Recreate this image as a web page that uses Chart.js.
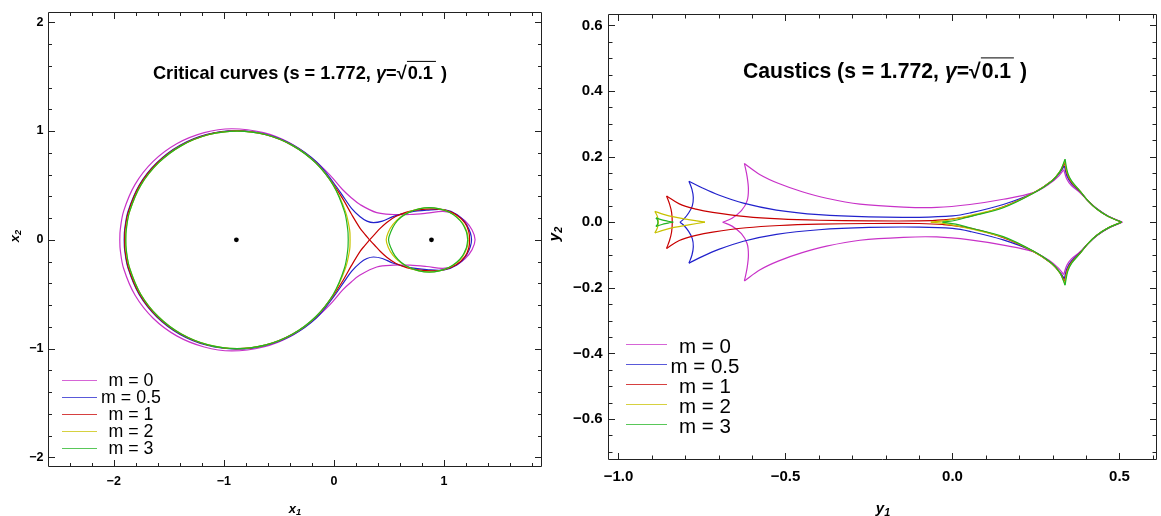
<!DOCTYPE html>
<html>
<head>
<meta charset="utf-8">
<script src="https://cdn.jsdelivr.net/npm/chart.js@4.4.1/dist/chart.umd.min.js"></script>
<style>
  html, body { margin: 0; padding: 0; background: #fff; }
  #wrap { position: relative; width: 1161px; height: 516px; overflow: hidden;
          font-family: "Liberation Sans", Arial, sans-serif; color: #000; background: #fff; }
  canvas { position: absolute; top: 0; }
  .t { position: absolute; white-space: nowrap; transform: translate(-50%, -50%); line-height: 1; }
  .title { font-weight: bold; }
  .ov { border-top: 1.6px solid #000; padding: 1px 3px 0 1px; }
  .axl { font-weight: bold; font-style: italic; }
  .axl sub { font-size: 72%; vertical-align: -0.3em; line-height: 0; }
  .rot { transform: translate(-50%, -50%) rotate(-90deg); }
  .lg { position: absolute; height: 0; border-top: 1.8px solid; opacity: 0.75; }
  .lt { position: absolute; white-space: nowrap; transform: translate(-50%, -50%); line-height: 1; }
</style>
</head>
<body>
<div id="wrap">
  <canvas id="crit" width="560" height="516" style="left:0"></canvas>
  <canvas id="caus" width="601" height="516" style="left:560px"></canvas>

  <div class="t title" style="left:300px; top:73px; font-size:18.2px">Critical curves (s = 1.772, <i>γ</i>=√<span class="ov">0.1</span> )</div>
  <div class="t title" style="left:885px; top:71px; font-size:21.2px">Caustics (s = 1.772, <i>γ</i>=√<span class="ov">0.1</span> )</div>

  <div class="t axl" style="left:295px; top:508px; font-size:13px">x<sub>1</sub></div>
  <div class="t axl rot" style="left:14px; top:236px; font-size:13px">x<sub>2</sub></div>
  <div class="t axl" style="left:883px; top:507px; font-size:15px">y<sub>1</sub></div>
  <div class="t axl rot" style="left:553px; top:234px; font-size:15px">y<sub>2</sub></div>

  <div id="legL"></div>
  <div id="legR"></div>
</div>

<script>
// ---------- colours / legend ----------
const mLabels = ["m = 0", "m = 0.5", "m = 1", "m = 2", "m = 3"];
const mColors = ["#c832c8", "#2222cc", "#c80000", "#c8c200", "#22b422"];

// ---------- axes (left: critical curves) ----------
const critXMajor = [-2, -1, 0, 1];
const critXLabels = ["\u22122", "\u22121", "0", "1"];
const critXTicks = [-2.4, -2.2, -2, -1.8, -1.6, -1.4, -1.2, -1, -0.8, -0.6, -0.4, -0.2, 0,
                    0.2, 0.4, 0.6, 0.8, 1, 1.2, 1.4, 1.6, 1.8];
const critYMajor = [-2, -1, 0, 1, 2];
const critYLabels = ["\u22122", "\u22121", "0", "1", "2"];
const critYTicks = [-2, -1.8, -1.6, -1.4, -1.2, -1, -0.8, -0.6, -0.4, -0.2, 0,
                    0.2, 0.4, 0.6, 0.8, 1, 1.2, 1.4, 1.6, 1.8, 2];

// ---------- axes (right: caustics) ----------
const causXMajor = [-1, -0.5, 0, 0.5];
const causXLabels = ["\u22121.0", "\u22120.5", "0.0", "0.5"];
const causXTicks = [-1, -0.9, -0.8, -0.7, -0.6, -0.5, -0.4, -0.3, -0.2, -0.1, 0,
                    0.1, 0.2, 0.3, 0.4, 0.5, 0.6];
const causYMajor = [-0.6, -0.4, -0.2, 0, 0.2, 0.4, 0.6];
const causYLabels = ["\u22120.6", "\u22120.4", "\u22120.2", "0.0", "0.2", "0.4", "0.6"];
const causYTicks = [-0.7, -0.65, -0.6, -0.55, -0.5, -0.45, -0.4, -0.35, -0.3, -0.25, -0.2,
                    -0.15, -0.1, -0.05, 0, 0.05, 0.1, 0.15, 0.2, 0.25, 0.3, 0.35, 0.4,
                    0.45, 0.5, 0.55, 0.6];

// ---------- lens positions ----------
const lensX = [-0.886, 0.886];
const lensY = [0, 0];

// ---------- critical curves ----------
const crit_m0 = [
  [-1.945, 0], [-1.941, 0.09], [-1.91, 0.264], [-1.806, 0.51], [-1.642, 0.721], [-1.428, 0.883],
  [-1.178, 0.985], [-0.928, 1.021], [-0.64, 0.985], [-0.4, 0.89], [-0.2, 0.75], [-0.04, 0.6],
  [0.08, 0.46], [0.16, 0.385], [0.237, 0.324], [0.389, 0.25], [0.54, 0.233], [0.691, 0.233],
  [0.843, 0.245], [0.99, 0.262], [1.1, 0.238], [1.19, 0.175], [1.255, 0.09], [1.282, 0],
  [1.255, -0.09], [1.19, -0.175], [1.1, -0.238], [0.99, -0.262], [0.843, -0.245], [0.691, -0.233],
  [0.54, -0.233], [0.389, -0.25], [0.237, -0.324], [0.16, -0.385], [0.08, -0.46], [-0.04, -0.6],
  [-0.2, -0.75], [-0.4, -0.89], [-0.64, -0.985], [-0.928, -1.021], [-1.178, -0.985], [-1.428, -0.883],
  [-1.642, -0.721], [-1.806, -0.51], [-1.91, -0.264], [-1.941, -0.09], [-1.945, 0]
];
const crit_m05 = [
  [-1.905, 0], [-1.901, 0.09], [-1.87, 0.26], [-1.769, 0.502], [-1.608, 0.709], [-1.398, 0.869],
  [-1.153, 0.969], [-0.89, 1.004], [-0.625, 0.972], [-0.375, 0.874], [-0.158, 0.716], [0.0, 0.52],
  [0.1, 0.375], [0.16, 0.29], [0.238, 0.212], [0.3, 0.172], [0.36, 0.158], [0.44, 0.172],
  [0.54, 0.215], [0.691, 0.255], [0.843, 0.273], [1.0, 0.277], [1.12, 0.23], [1.205, 0.14], [1.25, 0],
  [1.205, -0.14], [1.12, -0.23], [1.0, -0.277], [0.843, -0.273], [0.691, -0.255], [0.54, -0.215],
  [0.44, -0.172], [0.36, -0.158], [0.3, -0.172], [0.238, -0.212], [0.16, -0.29], [0.1, -0.375],
  [0.0, -0.52], [-0.158, -0.716], [-0.375, -0.874], [-0.625, -0.972], [-0.89, -1.004],
  [-1.153, -0.969], [-1.398, -0.869], [-1.608, -0.709], [-1.769, -0.502], [-1.87, -0.26],
  [-1.901, -0.09], [-1.905, 0]
];
const crit_m1_big = [
  [0.324, 0], [0.28, 0.053], [0.238, 0.106], [0.16, 0.235], [0.085, 0.369], [-0.005, 0.51],
  [-0.165, 0.71], [-0.378, 0.868], [-0.625, 0.968], [-0.885, 1.001], [-1.147, 0.967], [-1.392, 0.866],
  [-1.603, 0.708], [-1.765, 0.5], [-1.866, 0.259], [-1.897, 0.09], [-1.9, 0],
  [-1.897, -0.09], [-1.866, -0.259], [-1.765, -0.5], [-1.603, -0.708], [-1.392, -0.866], [-1.147, -0.967],
  [-0.885, -1.001], [-0.625, -0.968], [-0.378, -0.868], [-0.165, -0.71], [-0.005, -0.51],
  [0.085, -0.369], [0.16, -0.235], [0.238, -0.106], [0.28, -0.053], [0.324, 0]
];
const crit_m1_small = [
  [0.324, 0], [0.37, 0.05], [0.42, 0.105], [0.48, 0.16], [0.56, 0.215], [0.66, 0.255], [0.78, 0.278],
  [0.9, 0.285], [1.01, 0.273], [1.11, 0.23], [1.19, 0.155], [1.225, 0.075], [1.232, 0],
  [1.225, -0.075], [1.19, -0.155], [1.11, -0.23], [1.01, -0.273], [0.9, -0.285], [0.78, -0.278],
  [0.66, -0.255], [0.56, -0.215], [0.48, -0.16], [0.42, -0.105], [0.37, -0.05], [0.324, 0]
];
const crit_m2_big = [
  [0.147, 0], [0.143, 0.09], [0.105, 0.259], [-0.004, 0.5], [-0.164, 0.707], [-0.373, 0.866],
  [-0.616, 0.966], [-0.878, 1.0], [-1.14, 0.966], [-1.385, 0.866], [-1.594, 0.707], [-1.755, 0.5],
  [-1.856, 0.259], [-1.889, 0.09], [-1.892, 0], [-1.889, -0.09], [-1.856, -0.259], [-1.755, -0.5],
  [-1.594, -0.707], [-1.385, -0.866], [-1.14, -0.966], [-0.878, -1.0], [-0.616, -0.966],
  [-0.373, -0.866], [-0.164, -0.707], [-0.004, -0.5], [0.105, -0.259], [0.143, -0.09], [0.147, 0]
];
const crit_m2_small = [
  [1.22, 0], [1.215, 0.04], [1.207, 0.076], [1.173, 0.148], [1.118, 0.209], [1.046, 0.255],
  [0.96, 0.285], [0.865, 0.295], [0.77, 0.285], [0.68, 0.255], [0.6, 0.205], [0.535, 0.14],
  [0.494, 0.07], [0.475, 0], [0.494, -0.07], [0.535, -0.14], [0.6, -0.205], [0.68, -0.255],
  [0.77, -0.285], [0.865, -0.295], [0.96, -0.285], [1.046, -0.255], [1.118, -0.209], [1.173, -0.148],
  [1.207, -0.076], [1.215, -0.04], [1.22, 0]
];
const crit_m3_big = [
  [0.13, 0], [0.126, 0.09], [0.096, 0.259], [-0.005, 0.5], [-0.166, 0.707], [-0.375, 0.866],
  [-0.618, 0.966], [-0.88, 1.0], [-1.142, 0.966], [-1.385, 0.866], [-1.594, 0.707], [-1.755, 0.5],
  [-1.856, 0.259], [-1.886, 0.09], [-1.89, 0], [-1.886, -0.09], [-1.856, -0.259], [-1.755, -0.5],
  [-1.594, -0.707], [-1.385, -0.866], [-1.142, -0.966], [-0.88, -1.0], [-0.618, -0.966],
  [-0.375, -0.866], [-0.166, -0.707], [-0.005, -0.5], [0.096, -0.259], [0.126, -0.09], [0.13, 0]
];
const crit_m3_small = [
  [1.215, 0], [1.21, 0.04], [1.202, 0.076], [1.168, 0.148], [1.113, 0.209], [1.043, 0.255],
  [0.958, 0.285], [0.866, 0.296], [0.773, 0.285], [0.686, 0.255], [0.612, 0.209], [0.555, 0.148],
  [0.518, 0.076], [0.496, 0], [0.518, -0.076], [0.555, -0.148], [0.612, -0.209], [0.686, -0.255],
  [0.773, -0.285], [0.866, -0.296], [0.958, -0.285], [1.043, -0.255], [1.113, -0.209],
  [1.168, -0.148], [1.202, -0.076], [1.21, -0.04], [1.215, 0]
];

// ---------- caustics (one array per arc between cusps) ----------
const caus_m0_top = [[-0.623, 0.179], [-0.576, 0.145], [-0.52, 0.118], [-0.45, 0.093], [-0.377, 0.073],
  [-0.277, 0.055], [-0.147, 0.046], [-0.047, 0.045], [0.052, 0.054], [0.152, 0.07], [0.242, 0.09],
  [0.29, 0.117], [0.318, 0.141], [0.333, 0.16]];
const caus_m0_bot = [[-0.623, -0.179], [-0.576, -0.145], [-0.52, -0.118], [-0.45, -0.093], [-0.377, -0.073],
  [-0.277, -0.055], [-0.147, -0.046], [-0.047, -0.045], [0.052, -0.054], [0.152, -0.07], [0.242, -0.09],
  [0.29, -0.117], [0.318, -0.141], [0.333, -0.16]];
const caus_m0_side_up = [[-0.623, 0.179], [-0.615, 0.14], [-0.611, 0.1], [-0.615, 0.065], [-0.632, 0.035],
  [-0.66, 0.012], [-0.688, 0]];
const caus_m0_side_dn = [[-0.623, -0.179], [-0.615, -0.14], [-0.611, -0.1], [-0.615, -0.065], [-0.632, -0.035],
  [-0.66, -0.012], [-0.688, 0]];
const caus_m0_right_up = [[0.333, 0.16], [0.342, 0.132], [0.356, 0.112], [0.382, 0.09], [0.407, 0.064],
  [0.434, 0.04], [0.467, 0.018], [0.509, 0]];
const caus_m0_right_dn = [[0.333, -0.16], [0.342, -0.132], [0.356, -0.112], [0.382, -0.09], [0.407, -0.064],
  [0.434, -0.04], [0.467, -0.018], [0.509, 0]];

const caus_m05_top = [[-0.789, 0.125], [-0.75, 0.105], [-0.7, 0.083], [-0.626, 0.058], [-0.527, 0.037],
  [-0.4, 0.023], [-0.25, 0.016], [-0.1, 0.015], [0.0, 0.019], [0.052, 0.028], [0.152, 0.054],
  [0.242, 0.089], [0.295, 0.124], [0.32, 0.15], [0.335, 0.172]];
const caus_m05_bot = [[-0.789, -0.125], [-0.75, -0.105], [-0.7, -0.083], [-0.626, -0.058], [-0.527, -0.037],
  [-0.4, -0.023], [-0.25, -0.016], [-0.1, -0.015], [0.0, -0.019], [0.052, -0.028], [0.152, -0.054],
  [0.242, -0.089], [0.295, -0.124], [0.32, -0.15], [0.335, -0.172]];
const caus_m05_side_up = [[-0.789, 0.125], [-0.78, 0.1], [-0.776, 0.075], [-0.779, 0.05], [-0.79, 0.028],
  [-0.804, 0.01], [-0.816, 0]];
const caus_m05_side_dn = [[-0.789, -0.125], [-0.78, -0.1], [-0.776, -0.075], [-0.779, -0.05], [-0.79, -0.028],
  [-0.804, -0.01], [-0.816, 0]];
const caus_m05_right_up = [[0.335, 0.172], [0.343, 0.14], [0.357, 0.117], [0.382, 0.093], [0.406, 0.065],
  [0.433, 0.04], [0.466, 0.018], [0.507, 0]];
const caus_m05_right_dn = [[0.335, -0.172], [0.343, -0.14], [0.357, -0.117], [0.382, -0.093], [0.406, -0.065],
  [0.433, -0.04], [0.466, -0.018], [0.507, 0]];

const caus_m1_top = [[-0.856, 0.08], [-0.818, 0.056], [-0.768, 0.04], [-0.718, 0.03], [-0.618, 0.017],
  [-0.518, 0.01], [-0.4, 0.006], [-0.25, 0.004], [-0.1, 0.004], [-0.03, 0.007], [0.052, 0.018],
  [0.152, 0.047], [0.242, 0.089], [0.296, 0.125], [0.321, 0.153], [0.336, 0.18]];
const caus_m1_bot = [[-0.856, -0.08], [-0.818, -0.056], [-0.768, -0.04], [-0.718, -0.03], [-0.618, -0.017],
  [-0.518, -0.01], [-0.4, -0.006], [-0.25, -0.004], [-0.1, -0.004], [-0.03, -0.007], [0.052, -0.018],
  [0.152, -0.047], [0.242, -0.089], [0.296, -0.125], [0.321, -0.153], [0.336, -0.18]];
const caus_m1_side = [[-0.856, 0.08], [-0.847, 0.055], [-0.841, 0.03], [-0.839, 0], [-0.841, -0.03],
  [-0.847, -0.055], [-0.856, -0.08]];
const caus_m1_right_up = [[0.336, 0.18], [0.344, 0.145], [0.357, 0.121], [0.382, 0.094], [0.405, 0.066],
  [0.432, 0.04], [0.465, 0.018], [0.506, 0]];
const caus_m1_right_dn = [[0.336, -0.18], [0.344, -0.145], [0.357, -0.121], [0.382, -0.094], [0.405, -0.066],
  [0.432, -0.04], [0.465, -0.018], [0.506, 0]];

const caus_m2_top = [[-0.065, 0], [-0.02, 0.005], [0.052, 0.02], [0.152, 0.046], [0.242, 0.089],
  [0.296, 0.125], [0.321, 0.154], [0.336, 0.186]];
const caus_m2_bot = [[-0.065, 0], [-0.02, -0.005], [0.052, -0.02], [0.152, -0.046], [0.242, -0.089],
  [0.296, -0.125], [0.321, -0.154], [0.336, -0.186]];
const caus_m2_right_up = [[0.336, 0.186], [0.344, 0.148], [0.357, 0.123], [0.382, 0.095], [0.405, 0.066],
  [0.432, 0.04], [0.465, 0.018], [0.506, 0]];
const caus_m2_right_dn = [[0.336, -0.186], [0.344, -0.148], [0.357, -0.123], [0.382, -0.095], [0.405, -0.066],
  [0.432, -0.04], [0.465, -0.018], [0.506, 0]];
const caus_m2_small_up = [[-0.891, 0.033], [-0.865, 0.024], [-0.834, 0.016], [-0.79, 0.008], [-0.741, 0]];
const caus_m2_small_dn = [[-0.891, -0.033], [-0.865, -0.024], [-0.834, -0.016], [-0.79, -0.008], [-0.741, 0]];
const caus_m2_small_side = [[-0.891, 0.033], [-0.883, 0.016], [-0.881, 0], [-0.883, -0.016], [-0.891, -0.033]];

const caus_m3_top = [[-0.03, 0], [0.01, 0.006], [0.052, 0.017], [0.152, 0.044], [0.242, 0.088],
  [0.297, 0.125], [0.322, 0.155], [0.337, 0.192]];
const caus_m3_bot = [[-0.03, 0], [0.01, -0.006], [0.052, -0.017], [0.152, -0.044], [0.242, -0.088],
  [0.297, -0.125], [0.322, -0.155], [0.337, -0.192]];
const caus_m3_right_up = [[0.337, 0.192], [0.345, 0.15], [0.357, 0.125], [0.382, 0.095], [0.405, 0.066],
  [0.432, 0.04], [0.465, 0.018], [0.506, 0]];
const caus_m3_right_dn = [[0.337, -0.192], [0.345, -0.15], [0.357, -0.125], [0.382, -0.095], [0.405, -0.066],
  [0.432, -0.04], [0.465, -0.018], [0.506, 0]];
const caus_m3_small_up = [[-0.888, 0.013], [-0.87, 0.007], [-0.852, 0.003], [-0.836, 0]];
const caus_m3_small_dn = [[-0.888, -0.013], [-0.87, -0.007], [-0.852, -0.003], [-0.836, 0]];
const caus_m3_small_side = [[-0.888, 0.013], [-0.883, 0.006], [-0.882, 0], [-0.883, -0.006], [-0.888, -0.013]];

// which arcs belong to which m (index into mColors)
const critArcs = [
  [crit_m0],
  [crit_m05],
  [crit_m1_big, crit_m1_small],
  [crit_m2_big, crit_m2_small],
  [crit_m3_big, crit_m3_small]
];
const causArcs = [
  [caus_m0_top, caus_m0_bot, caus_m0_side_up, caus_m0_side_dn, caus_m0_right_up, caus_m0_right_dn],
  [caus_m05_top, caus_m05_bot, caus_m05_side_up, caus_m05_side_dn, caus_m05_right_up, caus_m05_right_dn],
  [caus_m1_top, caus_m1_bot, caus_m1_side, caus_m1_right_up, caus_m1_right_dn],
  [caus_m2_top, caus_m2_bot, caus_m2_right_up, caus_m2_right_dn, caus_m2_small_up, caus_m2_small_dn, caus_m2_small_side],
  [caus_m3_top, caus_m3_bot, caus_m3_right_up, caus_m3_right_dn, caus_m3_small_up, caus_m3_small_dn, caus_m3_small_side]
];

// frame with inward ticks on all four sides (Mathematica style)
const frameTicks = {
  id: "frameTicks",
  afterDatasetsDraw(chart, args, o) {
    const { ctx, chartArea: a, scales } = chart;
    const sx = scales.x, sy = scales.y;
    const L = Math.round(a.left) + 0.5, R = Math.round(a.right) - 0.5;
    const T = Math.round(a.top) + 0.5, B = Math.round(a.bottom) - 0.5;
    ctx.save();
    ctx.strokeStyle = "#222";
    ctx.lineWidth = 1;
    ctx.beginPath();
    ctx.rect(L, T, R - L, B - T);
    for (const v of o.xTicks) {
      const px = Math.round(sx.getPixelForValue(v)) + 0.5;
      const len = o.xMajor.includes(v) ? o.major : o.minor;
      ctx.moveTo(px, B); ctx.lineTo(px, B - len);
      ctx.moveTo(px, T); ctx.lineTo(px, T + len);
    }
    for (const v of o.yTicks) {
      const py = Math.round(sy.getPixelForValue(v)) + 0.5;
      const len = o.yMajor.includes(v) ? o.major : o.minor;
      ctx.moveTo(L, py); ctx.lineTo(L + len, py);
      ctx.moveTo(R, py); ctx.lineTo(R - len, py);
    }
    ctx.stroke();
    ctx.restore();
  }
};

function arcDatasets(groups) {
  const out = [];
  groups.forEach((arcs, k) => {
    arcs.forEach((pts) => {
      out.push({
        data: pts.map(([x, y]) => ({ x, y })),
        showLine: true,
        borderColor: mColors[k],
        borderWidth: 1.2,
        pointRadius: 0,
        pointHoverRadius: 0,
        tension: 0.35,
        fill: false,
        order: 10 - k
      });
    });
  });
  return out;
}

function buildChart(id, c) {
  const font = { family: "'Liberation Sans', Arial, sans-serif", size: c.tickFont, weight: "bold" };
  return new Chart(document.getElementById(id), {
    type: "scatter",
    data: { datasets: c.datasets },
    options: {
      responsive: false,
      animation: false,
      devicePixelRatio: 1,
      layout: { padding: c.padding },
      plugins: {
        legend: { display: false },
        tooltip: { enabled: false },
        frameTicks: c.frame
      },
      scales: {
        x: {
          type: "linear", min: c.xMin, max: c.xMax,
          grid: { display: false, drawTicks: false },
          border: { display: false },
          afterBuildTicks: (s) => { s.ticks = c.frame.xMajor.map((v) => ({ value: v })); },
          afterFit: (s) => { s.height = c.xAxisH; },
          ticks: { autoSkip: false, maxRotation: 0, padding: c.xPad, color: "#000", font,
                   callback: (v, i) => c.xLabels[i] }
        },
        y: {
          type: "linear", min: c.yMin, max: c.yMax,
          grid: { display: false, drawTicks: false },
          border: { display: false },
          afterBuildTicks: (s) => { s.ticks = c.frame.yMajor.map((v) => ({ value: v })); },
          afterFit: (s) => { s.width = c.yAxisW; },
          ticks: { autoSkip: false, padding: c.yPad, color: "#000", font,
                   callback: (v, i) => c.yLabels[i] }
        }
      }
    },
    plugins: [frameTicks]
  });
}

// left panel
const critSets = arcDatasets(critArcs);
critSets.push({
  data: lensX.map((x, i) => ({ x, y: lensY[i] })),
  pointRadius: 2.4, backgroundColor: "#000", borderWidth: 0, showLine: false, order: -1
});
buildChart("crit", {
  datasets: critSets,
  padding: { top: 7, right: 18, left: 0, bottom: 0 },
  xMin: -2.597, xMax: 1.89, yMin: -2.088, yMax: 2.094,
  xAxisH: 49, yAxisW: 48, xPad: 7.5, yPad: 4.5, tickFont: 12.5,
  xLabels: critXLabels, yLabels: critYLabels,
  frame: { xTicks: critXTicks, xMajor: critXMajor, yTicks: critYTicks, yMajor: critYMajor, major: 6.5, minor: 3.5 }
});

// right panel
buildChart("caus", {
  datasets: arcDatasets(causArcs),
  padding: { top: 7, right: 4, left: 0, bottom: 0 },
  xMin: -1.0314, xMax: 0.6123, yMin: -0.7252, yMax: 0.634,
  xAxisH: 56, yAxisW: 48, xPad: 8, yPad: 5.3, tickFont: 15,
  xLabels: causXLabels, yLabels: causYLabels,
  frame: { xTicks: causXTicks, xMajor: causXMajor, yTicks: causYTicks, yMajor: causYMajor, major: 6.5, minor: 4 }
});

// legends (HTML text over the plot areas)
function legend(el, o) {
  const box = document.getElementById(el);
  mLabels.forEach((lab, k) => {
    const y = o.y0 + k * o.dy;
    const ln = document.createElement("div");
    ln.className = "lg";
    ln.style.cssText = `left:${o.x0}px; top:${y}px; width:${o.w}px; border-color:${mColors[k]}`;
    box.appendChild(ln);
    const tx = document.createElement("div");
    tx.className = "lt";
    tx.textContent = lab;
    tx.style.cssText = `left:${o.tx}px; top:${y + o.tdy}px; font-size:${o.fs}px`;
    box.appendChild(tx);
  });
}
legend("legL", { x0: 62, w: 35, y0: 379.5, dy: 17, tx: 131, tdy: 1.5, fs: 17.8 });
legend("legR", { x0: 626, w: 41, y0: 344, dy: 20, tx: 705, tdy: 2, fs: 20.5 });
</script>
</body>
</html>
